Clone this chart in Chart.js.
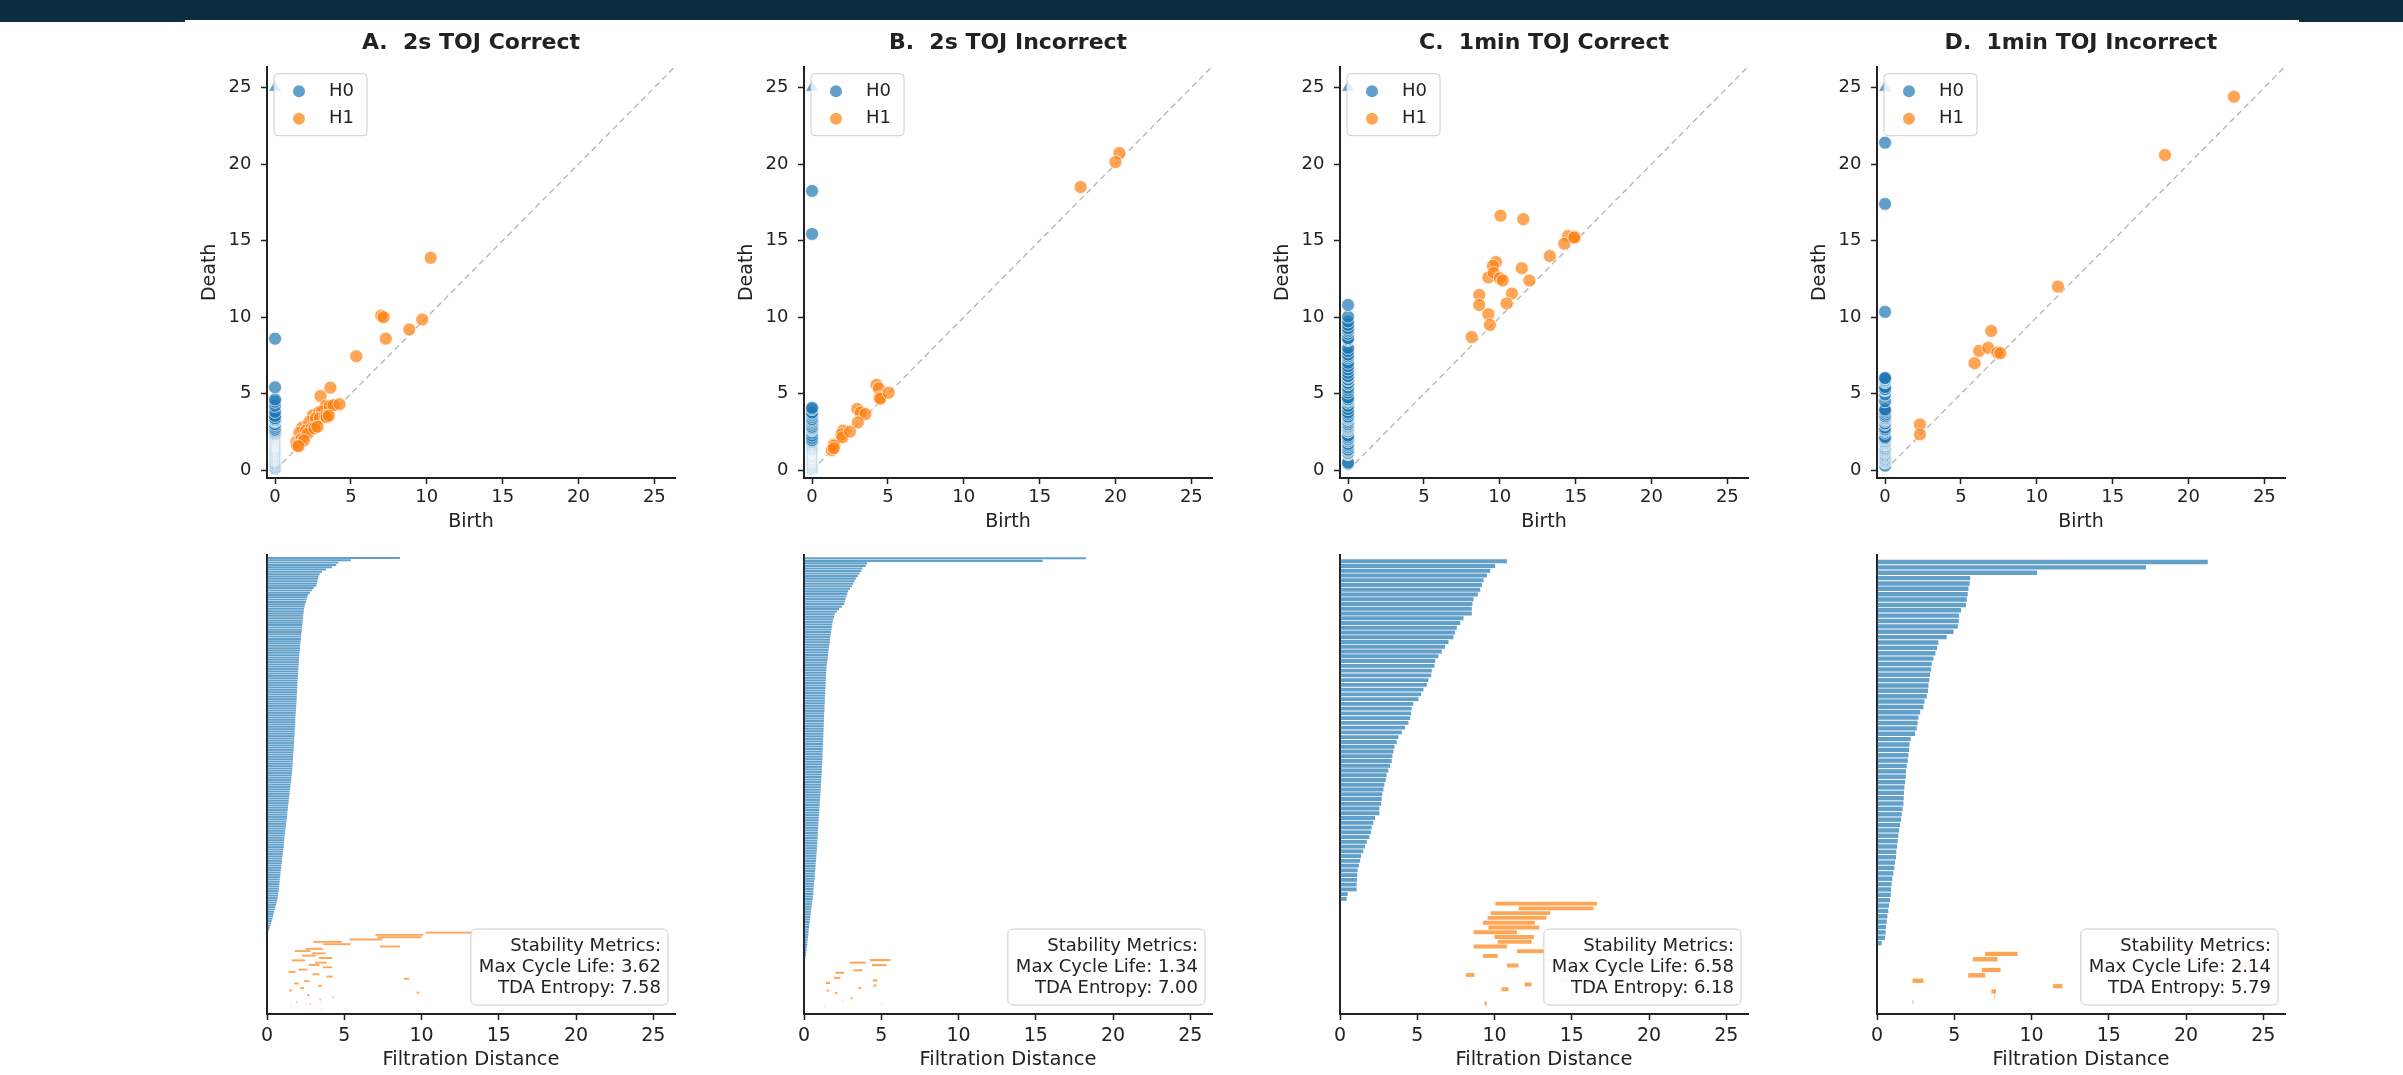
<!DOCTYPE html>
<html>
<head>
<meta charset="utf-8">
<script src="https://cdn.jsdelivr.net/npm/chart.js@4.4.1/dist/chart.umd.min.js"></script>
<style>
  body { margin: 0; width: 2403px; height: 1075px; background: #fff; position: relative; overflow: hidden; }
  .band { position: absolute; left: 0; top: 0; width: 2403px; height: 22px; background: #0c2d40; }
  .sheet { position: absolute; left: 185px; top: 20px; width: 2114px; height: 4px; background: #fff; }
  canvas { position: absolute; }
</style>
</head>
<body>
<div class="band"></div>
<div class="sheet"></div>
<script>
// ---- data ----
const panelTitles = ['A.  2s TOJ Correct', 'B.  2s TOJ Incorrect', 'C.  1min TOJ Correct', 'D.  1min TOJ Incorrect'];
const tickValues = [0, 5, 10, 15, 20, 25];
const infDeath = 25;            // H0 class that never dies (triangle)
const cycleLife = [3.62, 1.34, 6.58, 2.14];
const tdaEntropy = [7.58, 7.00, 6.18, 5.79];

// A. 2s TOJ Correct
const h0DeathA = [
  8.60, 5.42, 4.63, 4.48, 4.21, 3.82, 3.55, 3.41, 3.33, 3.30,
  3.27, 3.24, 3.18, 3.02, 2.91, 2.78, 2.66, 2.61, 2.55, 2.51,
  2.47, 2.43, 2.40, 2.38, 2.36, 2.34, 2.33, 2.31, 2.30, 2.28,
  2.27, 2.25, 2.24, 2.22, 2.21, 2.19, 2.18, 2.16, 2.15, 2.13,
  2.12, 2.11, 2.09, 2.08, 2.07, 2.06, 2.05, 2.04, 2.03, 2.02,
  2.01, 2.00, 1.99, 1.98, 1.97, 1.96, 1.96, 1.95, 1.94, 1.93,
  1.93, 1.92, 1.91, 1.90, 1.89, 1.88, 1.87, 1.86, 1.85, 1.84,
  1.83, 1.83, 1.82, 1.81, 1.80, 1.79, 1.79, 1.78, 1.77, 1.76,
  1.75, 1.74, 1.73, 1.72, 1.71, 1.70, 1.69, 1.68, 1.67, 1.66,
  1.65, 1.64, 1.63, 1.62, 1.60, 1.58, 1.57, 1.55, 1.53, 1.51,
  1.49, 1.47, 1.46, 1.44, 1.42, 1.41, 1.39, 1.37, 1.36, 1.34,
  1.32, 1.31, 1.29, 1.28, 1.26, 1.24, 1.22, 1.20, 1.18, 1.16,
  1.15, 1.13, 1.12, 1.10, 1.09, 1.08, 1.06, 1.04, 1.02, 1.00,
  0.98, 0.97, 0.95, 0.93, 0.91, 0.89, 0.88, 0.86, 0.85, 0.83,
  0.82, 0.80, 0.78, 0.77, 0.75, 0.73, 0.71, 0.69, 0.66, 0.62,
  0.58, 0.54, 0.50, 0.46, 0.42, 0.39, 0.35, 0.31, 0.26, 0.21, 0.17, 0.12
];
const h1BirthA = [10.26, 7.00, 7.15, 5.35, 3.00, 3.65, 7.30, 2.50, 1.80, 2.90, 2.25, 3.35, 1.60, 3.10, 2.70, 3.60, 2.05,
  1.40, 2.95, 3.85, 8.85, 2.40, 1.75, 3.30, 2.15, 1.45, 9.70, 2.60, 4.25, 3.40, 1.90, 2.80, 1.55, 3.55];
const h1DeathA = [13.88, 10.10, 10.00, 7.45, 4.85, 5.40, 8.60, 3.60, 2.80, 3.80, 3.15, 4.23, 2.45, 3.85, 3.40, 4.20, 2.60,
  1.85, 3.40, 4.25, 9.20, 2.75, 2.05, 3.55, 2.40, 1.62, 9.85, 2.75, 4.32, 3.48, 1.96, 2.85, 1.58, 3.57];

// B. 2s TOJ Incorrect
const h0DeathB = [
  18.25, 15.44, 4.08, 4.00, 3.78, 3.70, 3.60, 3.48, 3.35, 3.27,
  3.18, 3.10, 2.98, 2.85, 2.79, 2.74, 2.68, 2.64, 2.60, 2.45,
  2.27, 2.12, 1.99, 1.94, 1.90, 1.85, 1.83, 1.80, 1.78, 1.75,
  1.73, 1.70, 1.68, 1.66, 1.64, 1.62, 1.60, 1.58, 1.56, 1.54,
  1.52, 1.50, 1.47, 1.46, 1.45, 1.44, 1.43, 1.42, 1.41, 1.40,
  1.40, 1.39, 1.38, 1.37, 1.36, 1.35, 1.35, 1.34, 1.33, 1.33,
  1.32, 1.31, 1.30, 1.30, 1.29, 1.28, 1.28, 1.27, 1.26, 1.26,
  1.25, 1.24, 1.24, 1.23, 1.22, 1.22, 1.21, 1.20, 1.20, 1.19,
  1.18, 1.17, 1.16, 1.15, 1.15, 1.14, 1.13, 1.12, 1.11, 1.10,
  1.09, 1.08, 1.07, 1.06, 1.05, 1.04, 1.02, 1.01, 1.00, 0.99,
  0.98, 0.97, 0.96, 0.95, 0.94, 0.93, 0.92, 0.91, 0.90, 0.89,
  0.88, 0.87, 0.86, 0.85, 0.84, 0.83, 0.81, 0.80, 0.79, 0.78,
  0.76, 0.75, 0.74, 0.72, 0.71, 0.70, 0.69, 0.67, 0.65, 0.63,
  0.62, 0.61, 0.60, 0.58, 0.56, 0.53, 0.51, 0.49, 0.47, 0.45,
  0.43, 0.41, 0.39, 0.37, 0.35, 0.33, 0.31, 0.29, 0.28, 0.26,
  0.24, 0.22, 0.21, 0.19, 0.17, 0.15, 0.13, 0.10
];
const h1BirthB = [4.25, 2.98, 4.40, 17.70, 3.20, 2.04, 20.26, 1.94, 4.45, 1.42, 4.50, 3.52, 1.47, 2.00, 20.00, 3.02, 2.50, 5.05, 1.30, 1.43];
const h1DeathB = [5.59, 4.01, 5.35, 18.50, 3.78, 2.60, 20.72, 2.35, 4.75, 1.68, 4.68, 3.68, 1.62, 2.16, 20.13, 3.13, 2.53, 5.07, 1.32, 1.44];

// C. 1min TOJ Correct
const h0DeathC = [
  10.80, 10.04, 9.72, 9.50, 9.29, 9.18, 9.07, 8.92, 8.64, 8.57,
  8.53, 8.53, 7.99, 7.78, 7.56, 7.45, 7.34, 7.02, 6.80, 6.59,
  6.37, 6.16, 6.11, 5.94, 5.90, 5.72, 5.62, 5.40, 5.25, 5.08,
  4.75, 4.64, 4.60, 4.54, 4.43, 4.21, 4.00, 3.78, 3.67, 3.52,
  3.46, 3.39, 3.35, 3.24, 3.13, 3.02, 2.96, 2.87, 2.81, 2.74,
  2.70, 2.66, 2.55, 2.55, 2.27, 2.16, 2.05, 2.00, 1.90, 1.73,
  1.62, 1.51, 1.36, 1.30, 1.23, 1.14, 1.12, 1.10, 1.08, 1.08,
  0.50, 0.43
];
const h1BirthC = [10.05, 11.55, 9.75, 9.55, 9.25, 9.60, 8.65, 10.00, 10.20, 8.65, 11.45, 9.25, 13.30, 10.80, 14.50, 8.15,
  14.25, 11.95, 10.45, 14.95, 14.90, 9.35];
const h1DeathC = [16.63, 16.40, 13.60, 13.35, 12.60, 12.90, 11.45, 12.55, 12.40, 10.80, 13.20, 10.20, 14.00, 11.55, 15.30, 8.70,
  14.80, 12.40, 10.90, 15.25, 15.20, 9.50];

// D. 1min TOJ Incorrect
const h0DeathD = [
  21.40, 17.40, 10.35, 6.03, 6.00, 5.92, 5.87, 5.81, 5.75, 5.44,
  5.31, 5.29, 5.23, 4.95, 4.51, 3.97, 3.89, 3.78, 3.65, 3.54,
  3.50, 3.43, 3.39, 3.33, 3.30, 3.22, 3.07, 3.00, 2.79, 2.68,
  2.63, 2.57, 2.46, 2.18, 2.10, 2.07, 2.03, 1.99, 1.92, 1.88,
  1.86, 1.81, 1.77, 1.75, 1.73, 1.71, 1.66, 1.60, 1.56, 1.49,
  1.43, 1.38, 1.34, 1.30, 1.25, 1.23, 1.17, 1.12, 1.06, 0.99,
  0.95, 0.91, 0.89, 0.84, 0.78, 0.73, 0.67, 0.63, 0.58, 0.56,
  0.52, 0.30
];
const h1BirthD = [18.45, 7.00, 6.20, 23.00, 6.80, 5.90, 2.30, 11.40, 7.40, 7.60, 2.30];
const h1DeathD = [20.59, 9.10, 7.80, 24.40, 8.00, 7.00, 3.00, 12.00, 7.70, 7.65, 2.35];

const panels = [
  {h0: h0DeathA, b1: h1BirthA, d1: h1DeathA},
  {h0: h0DeathB, b1: h1BirthB, d1: h1DeathB},
  {h0: h0DeathC, b1: h1BirthC, d1: h1DeathC},
  {h0: h0DeathD, b1: h1BirthD, d1: h1DeathD}
];

// ---- look ----
const INK = '#222222';
const FONT = "'DejaVu Sans', sans-serif";
const BLUE = 'rgba(31,119,180,0.7)';
const ORANGE = 'rgba(255,127,14,0.7)';
const EDGE = 'rgba(255,255,255,0.85)';
const axisLeft = [267, 804, 1340, 1877];
const PLOT_W = 408;
const YBOX = 110;

Chart.defaults.font.family = FONT;
Chart.defaults.color = INK;

function makeCanvas(left, top, w, h) {
  const c = document.createElement('canvas');
  c.width = w; c.height = h;
  c.style.left = left + 'px'; c.style.top = top + 'px';
  c.style.width = w + 'px'; c.style.height = h + 'px';
  document.body.appendChild(c);
  return c;
}

const titlePlugin = {
  id: 'panelTitle',
  afterDraw(chart, args, opts) {
    const {ctx, chartArea} = chart;
    ctx.save();
    ctx.font = 'bold 22px ' + FONT;
    ctx.fillStyle = INK;
    ctx.textAlign = 'center';
    ctx.textBaseline = 'middle';
    ctx.fillText(opts.text, (chartArea.left + chartArea.right) / 2, opts.y);
    ctx.restore();
  }
};

const legendPlugin = {
  id: 'hLegend',
  afterDatasetsDraw(chart) {
    const {ctx, chartArea: a} = chart;
    const x = a.left + 7, y = a.top + 7, w = 93, h = 62;
    ctx.save();
    ctx.beginPath();
    ctx.roundRect(x, y, w, h, 4);
    ctx.fillStyle = 'rgba(255,255,255,0.8)';
    ctx.fill();
    ctx.strokeStyle = '#cccccc';
    ctx.lineWidth = 1;
    ctx.stroke();
    [0, 1].forEach(k => {
      const ds = chart.data.datasets[k];
      const cy = y + 17.5 + k * 27.5;
      ctx.beginPath();
      ctx.arc(x + 25, cy, 6, 0, Math.PI * 2);
      ctx.fillStyle = ds.backgroundColor;
      ctx.fill();
      ctx.fillStyle = INK;
      ctx.font = '18px ' + FONT;
      ctx.textAlign = 'left';
      ctx.textBaseline = 'middle';
      ctx.fillText(ds.label, x + 55, cy);
    });
    ctx.restore();
  }
};

const metricsPlugin = {
  id: 'stability',
  afterDatasetsDraw(chart, args, opts) {
    const {ctx, chartArea: a} = chart;
    const lines = ['Stability Metrics:', 'Max Cycle Life: ' + opts.life.toFixed(2), 'TDA Entropy: ' + opts.entropy.toFixed(2)];
    ctx.save();
    ctx.font = '18px ' + FONT;
    const tw = Math.max(...lines.map(l => ctx.measureText(l).width));
    const w = tw + 15, h = 76;
    const x = a.right - 7 - w, y = a.bottom - 9 - h;
    ctx.beginPath();
    ctx.roundRect(x, y, w, h, 5);
    ctx.fillStyle = 'rgba(255,255,255,0.92)';
    ctx.fill();
    ctx.strokeStyle = '#cccccc';
    ctx.lineWidth = 1;
    ctx.stroke();
    ctx.fillStyle = INK;
    ctx.textAlign = 'right';
    ctx.textBaseline = 'middle';
    lines.forEach((l, k) => ctx.fillText(l, x + w - 7, y + 17 + k * 21));
    ctx.restore();
  }
};

function tickAxis(opts) {
  return Object.assign({
    type: 'linear',
    z: 1,
    afterBuildTicks: s => { s.ticks = tickValues.map(v => ({value: v})); },
    grid: {drawOnChartArea: false, drawTicks: true, tickLength: 6, tickColor: INK, tickWidth: 1.5},
    border: {display: true, color: INK, width: 2}
  }, opts);
}

// persistence diagram (top row)
function diagram(i) {
  const top = 22, bottom = 540, axisY = 478;
  const cv = makeCanvas(axisLeft[i] - YBOX, top, YBOX + PLOT_W + 20, bottom - top);
  const p = panels[i];
  const lim = 26.36;
  // lowest deaths drawn first, as in the original stack of markers
  const h0Points = p.h0.map(d => ({x: 0, y: d})).reverse();
  new Chart(cv, {
    type: 'scatter',
    data: {
      datasets: [
        {label: 'H0', data: h0Points, backgroundColor: BLUE, borderColor: EDGE, borderWidth: 0.8, pointRadius: 6.5},
        {label: 'H1', data: p.b1.map((b, k) => ({x: b, y: p.d1[k]})), backgroundColor: ORANGE,
          borderColor: EDGE, borderWidth: 0.8, pointRadius: 6.5},
        {label: 'inf', data: [{x: 0, y: infDeath}], pointStyle: 'triangle', backgroundColor: BLUE,
          borderColor: EDGE, borderWidth: 0.8, pointRadius: 7.5},
        {label: 'diag', data: [{x: 0, y: 0}, {x: lim, y: lim}], showLine: true, pointRadius: 0,
          borderColor: '#b3b3b3', borderWidth: 1.3, borderDash: [6, 4]}
      ]
    },
    options: {
      responsive: false, animation: false, events: [],
      layout: {padding: {top: 66.7 - top, right: 20, left: 0, bottom: 0}},
      plugins: {legend: {display: false}, tooltip: {enabled: false},
        panelTitle: {text: panelTitles[i], y: 43 - top}},
      scales: {
        x: tickAxis({min: -0.53, max: lim,
          afterFit: s => { s.height = bottom - axisY; },
          ticks: {color: INK, font: {size: 18}, padding: 3, maxRotation: 0, autoSkip: false},
          title: {display: true, text: 'Birth', color: INK, font: {size: 19}, padding: {top: 0, bottom: 7}}}),
        y: tickAxis({min: -0.5, max: lim,
          afterFit: s => { s.width = YBOX; },
          ticks: {color: INK, font: {size: 18}, padding: 9.5, autoSkip: false},
          title: {display: true, text: 'Death', color: INK, font: {size: 19}, padding: {top: 41.5, bottom: 0}}})
      }
    },
    plugins: [titlePlugin, legendPlugin]
  });
}

// barcode (bottom row)
function barcode(i) {
  const top = 540, bottom = 1075, axisY = 1014;
  const cv = makeCanvas(axisLeft[i] - YBOX, top, YBOX + PLOT_W + 20, bottom - top);
  const p = panels[i];
  const n0 = p.h0.length;
  const total = n0 + p.b1.length;
  new Chart(cv, {
    type: 'bar',
    data: {
      datasets: [
        {label: 'H0', data: p.h0.map((d, k) => ({x: [0, d], y: k})), backgroundColor: BLUE,
          grouped: false, barPercentage: 0.82, categoryPercentage: 1},
        {label: 'H1', data: p.b1.map((b, k) => ({x: [b, p.d1[k]], y: n0 + k})), backgroundColor: ORANGE,
          grouped: false, barPercentage: 0.82, categoryPercentage: 1}
      ]
    },
    options: {
      indexAxis: 'y',
      responsive: false, animation: false, events: [],
      layout: {padding: {top: 555 - top, right: 20, left: 0, bottom: 0}},
      plugins: {legend: {display: false}, tooltip: {enabled: false},
        stability: {life: cycleLife[i], entropy: tdaEntropy[i]}},
      scales: {
        x: tickAxis({min: 0, max: 26.4,
          afterFit: s => { s.height = bottom - axisY; },
          ticks: {color: INK, font: {size: 19}, padding: 4.5, maxRotation: 0, autoSkip: false},
          title: {display: true, text: 'Filtration Distance', color: INK, font: {size: 19.5}, padding: {top: 0, bottom: 3.5}}}),
        y: {type: 'linear', reverse: true, offset: false, min: -1.3, max: total + 1.2, z: 1,
          afterFit: s => { s.width = YBOX; },
          ticks: {display: false},
          grid: {display: false},
          border: {display: true, color: INK, width: 2}}
      }
    },
    plugins: [metricsPlugin]
  });
}

for (let i = 0; i < 4; i++) {
  diagram(i);
  barcode(i);
}
</script>
</body>
</html>
